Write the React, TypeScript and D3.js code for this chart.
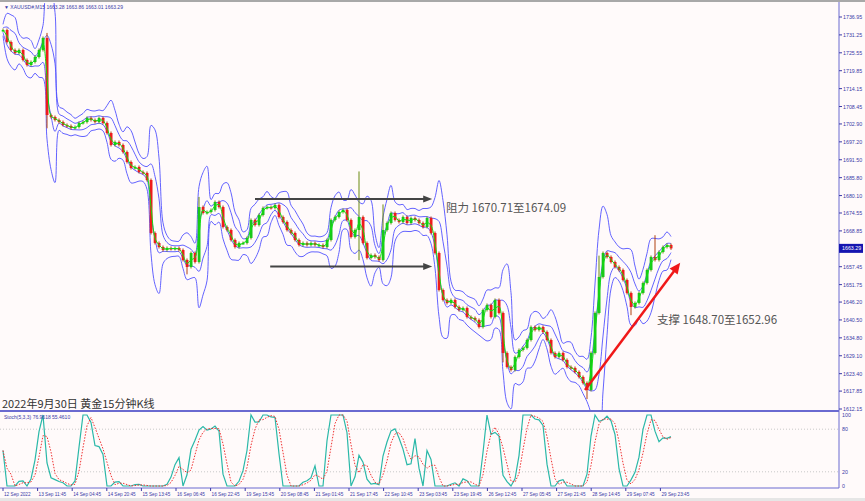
import React from "react";
import * as d3 from "d3";

const closes = [
  1732.81, 1728.99, 1726.44, 1725.49, 1726.44, 1723.26, 1721.67, 1722.62, 1724.21, 1726.44,
  1730.26, 1705.75, 1705.11, 1704.16, 1703.52, 1702.57, 1702.25, 1701.61, 1701.93, 1703.2,
  1703.52, 1704.8, 1704.16, 1703.52, 1704.8, 1703.2, 1700.02, 1696.2, 1697.16, 1696.2,
  1693.97, 1690.79, 1688.88, 1689.2, 1687.61, 1687.29, 1685.06, 1668.19, 1665.0, 1663.73,
  1662.77, 1663.41, 1663.09, 1663.41, 1662.77, 1659.59, 1657.36, 1661.82, 1658.95, 1676.46,
  1674.55, 1674.87, 1675.51, 1678.06, 1676.46, 1670.1, 1669.14, 1665.96, 1663.73, 1665.0,
  1665.0, 1666.6, 1672.33, 1670.73, 1673.92, 1676.15, 1676.46, 1676.15, 1677.1, 1673.28,
  1671.69, 1669.14, 1668.19, 1665.96, 1664.37, 1665.0, 1664.37, 1665.0, 1664.37, 1664.37,
  1663.73, 1665.96, 1672.33, 1673.28, 1674.87, 1675.51, 1672.33, 1666.91, 1669.14, 1673.28,
  1665.0, 1660.23, 1661.18, 1660.55, 1659.59, 1669.14, 1671.37, 1674.55, 1672.33, 1671.69,
  1673.28, 1671.37, 1672.96, 1672.33, 1671.37, 1670.1, 1672.96, 1668.19, 1661.82, 1650.04,
  1646.86, 1645.9, 1646.86, 1644.63, 1643.67, 1644.31, 1641.45, 1641.13, 1640.49, 1638.26,
  1643.67, 1645.27, 1641.45, 1646.86, 1642.72, 1629.99, 1625.53, 1624.57, 1628.71, 1630.94,
  1631.58, 1634.12, 1638.26, 1637.31, 1638.26, 1636.67, 1634.12, 1629.99, 1628.71, 1629.99,
  1627.76, 1625.53, 1625.21, 1623.94, 1622.35, 1620.44, 1618.21, 1629.99, 1642.72, 1654.18,
  1661.82, 1660.55, 1658.95, 1657.36, 1656.41, 1653.22, 1649.09, 1644.63, 1645.9, 1649.09,
  1652.27, 1656.41, 1660.55, 1659.59, 1662.14, 1663.73, 1664.37, 1663.29,
];

// long wicks visible in the picture: [candle index, price]
const spikeHighs: [number, number][] = [
  [11, 1731.4], [49, 1679.2], [89, 1687.3], [95, 1676.8], [149, 1660.5], [163, 1667.0],
];
const spikeLows: [number, number][] = [
  [11, 1702.0], [46, 1655.5], [89, 1660.0], [125, 1627.5], [146, 1615.8], [157, 1642.5],
];

const priceTicks = [
  1736.95, 1731.25, 1725.55, 1719.85, 1714.15, 1708.45, 1702.9, 1697.2, 1691.5, 1685.8,
  1680.1, 1674.55, 1668.85, 1657.45, 1651.75, 1646.2, 1640.5, 1634.8, 1629.1, 1623.4,
  1617.85, 1612.15,
];

const timeLabels = [
  "12 Sep 2022", "13 Sep 11:45", "14 Sep 04:45", "14 Sep 20:45", "15 Sep 13:45",
  "16 Sep 06:45", "16 Sep 22:45", "19 Sep 15:45", "20 Sep 08:45", "21 Sep 01:45",
  "21 Sep 17:45", "22 Sep 10:45", "23 Sep 03:45", "23 Sep 19:45", "26 Sep 12:45",
  "27 Sep 05:45", "27 Sep 21:45", "28 Sep 14:45", "29 Sep 07:45", "29 Sep 23:45",
];
const labelStep = 8.65; // candles between time labels

const stochLevels = [100, 80, 20, 0];

const lastPrice = 1663.29;

// annotations, in price / candle-index terms
const resistanceArrow = { from: 63, to: 107.3, price: 1679.0 };
const supportArrow = { from: 66.8, to: 107.3, price: 1657.5 };
const trendArrow = { i0: 145.5, p0: 1618.2, i1: 169.3, p1: 1658.7 };

const W = 865;
const H = 501;
const axisX = 839;
const mainTop = 3;
const mainBottom = 411;
const subTop = 413;
const subBottom = 488;

const blue = "#5252ff";
const axisBlue = "#3a3aa8";

function sma(arr: number[], n: number) {
  return arr.map((_, i) => {
    const w = arr.slice(Math.max(0, i - n + 1), i + 1);
    return d3.mean(w) as number;
  });
}

export default function App() {
  const n = closes.length;
  const x = d3.scaleLinear().domain([0, n - 1]).range([3, 671]);
  const y = d3.scaleLinear().domain([1612.15, 1736.95]).range([409, 17]);
  const ys = d3.scaleLinear().domain([0, 100]).range([486, 415]);

  const opens = closes.map((c, i) => (i === 0 ? c : closes[i - 1]));
  const highs = closes.map((c, i) => Math.max(c, opens[i]));
  const lows = closes.map((c, i) => Math.min(c, opens[i]));
  spikeHighs.forEach(([i, p]) => (highs[i] = Math.max(highs[i], p)));
  spikeLows.forEach(([i, p]) => (lows[i] = Math.min(lows[i], p)));

  // bands
  const period = 4;
  const mid = sma(closes, period);
  const sd = closes.map((_, i) => {
    const w = closes.slice(Math.max(0, i - period + 1), i + 1);
    return d3.deviation(w) || 0;
  });
  const outerUp = mid.map((m, i) => m + 2 * sd[i] + 1.8);
  const outerDn = mid.map((m, i) => m - 2 * sd[i] - 1.8);
  const innerUp = mid.map((m, i) => m + 0.8 * sd[i] + 0.7);
  const innerDn = mid.map((m, i) => m - 0.8 * sd[i] - 0.7);
  const fast = sma(closes, 2);

  const line = d3
    .line<number>()
    .x((_, i) => x(i))
    .y(d => y(d))
    .curve(d3.curveCatmullRom);

  // stochastic
  const kP = 4;
  const slowing = 2;
  const dP = 3;
  const num: number[] = [];
  const den: number[] = [];
  closes.forEach((c, i) => {
    const s = Math.max(0, i - kP + 1);
    const hh = d3.max(highs.slice(s, i + 1)) as number;
    const ll = d3.min(lows.slice(s, i + 1)) as number;
    num.push(c - ll);
    den.push(hh - ll);
  });
  const kLine = closes.map((_, i) => {
    const s = Math.max(0, i - slowing + 1);
    const a = d3.sum(num.slice(s, i + 1));
    const b = d3.sum(den.slice(s, i + 1));
    return b === 0 ? 50 : (a / b) * 100;
  });
  const dLine = sma(kLine, dP);

  const stochLine = d3
    .line<number>()
    .x((_, i) => x(i))
    .y(d => ys(d));

  const arrowHead = (x1: number, y1: number, x2: number, y2: number, len: number, wid: number) => {
    const a = Math.atan2(y2 - y1, x2 - x1);
    const p1 = [x2 - len * Math.cos(a) + wid * Math.sin(a), y2 - len * Math.sin(a) - wid * Math.cos(a)];
    const p2 = [x2 - len * Math.cos(a) - wid * Math.sin(a), y2 - len * Math.sin(a) + wid * Math.cos(a)];
    return `M${x2},${y2}L${p1[0]},${p1[1]}L${p2[0]},${p2[1]}Z`;
  };

  const tx0 = x(trendArrow.i0), ty0 = y(trendArrow.p0);
  const tx1 = x(trendArrow.i1), ty1 = y(trendArrow.p1);
  const ta = Math.atan2(ty1 - ty0, tx1 - tx0);

  return (
    <div style={{ position: "fixed", left: 0, top: 0, width: W, height: H }}>
      <svg width={W} height={H} style={{ display: "block", fontFamily: "'Liberation Sans', Arial, sans-serif" }}>
        <defs>
          <clipPath id="mainClip">
            <rect x={0} y={mainTop} width={axisX} height={mainBottom - mainTop} />
          </clipPath>
          <clipPath id="subClip">
            <rect x={0} y={subTop} width={axisX} height={subBottom - subTop} />
          </clipPath>
        </defs>
        <rect width={W} height={H} fill="#fffafa" />
        <rect width={W} height={2} fill="#a8a8a8" />
        <rect y={498} width={W} height={3} fill="#e6e6e6" />

        {/* main panel */}
        <g clipPath="url(#mainClip)">
          {[outerUp, outerDn, innerUp, innerDn].map((s, k) => (
            <path key={k} d={line(s) || ""} fill="none" stroke={blue} strokeWidth={1} opacity={0.9} />
          ))}
          {closes.map((c, i) => {
            const o = opens[i];
            const up = c >= o;
            const col = up ? "#19c819" : "#ee1c1c";
            const top = y(Math.max(o, c));
            const h = Math.max(1.5, Math.abs(y(o) - y(c)));
            return (
              <g key={i}>
                <line x1={x(i)} x2={x(i)} y1={y(highs[i]) - 1.5} y2={y(lows[i]) + 1.5} stroke={up ? "#6a8a10" : "#b04010"} strokeWidth={1} />
                <rect x={x(i) - 1.3} y={top} width={2.8} height={h} fill={col} />
              </g>
            );
          })}
          <path d={line(fast) || ""} fill="none" stroke="#10e010" strokeWidth={1} />
        </g>

        {/* annotations */}
        <g>
          <line x1={x(resistanceArrow.from)} x2={x(resistanceArrow.to) - 6} y1={y(resistanceArrow.price)} y2={y(resistanceArrow.price)} stroke="#444" strokeWidth={2} />
          <path d={arrowHead(x(resistanceArrow.from), y(resistanceArrow.price), x(resistanceArrow.to), y(resistanceArrow.price), 9, 3.5)} fill="#444" />
          <line x1={x(supportArrow.from)} x2={x(supportArrow.to) - 6} y1={y(supportArrow.price)} y2={y(supportArrow.price)} stroke="#444" strokeWidth={2} />
          <path d={arrowHead(x(supportArrow.from), y(supportArrow.price), x(supportArrow.to), y(supportArrow.price), 9, 3.5)} fill="#444" />
          <line x1={tx0} y1={ty0} x2={tx1 - 7 * Math.cos(ta)} y2={ty1 - 7 * Math.sin(ta)} stroke="#f01818" strokeWidth={2.5} />
          <path d={arrowHead(tx0, ty0, tx1, ty1, 11, 5)} fill="#f01818" />
          <text x={446} y={211.5} fontSize={11.5} fill="#555" fontFamily="'Noto Sans CJK SC', sans-serif">阻力 1670.71至1674.09</text>
          <text x={657} y={324} fontSize={11.5} fill="#555" fontFamily="'Noto Sans CJK SC', sans-serif">支撑 1648.70至1652.96</text>
          <text x={2} y={408} fontSize={11} fill="#333" fontFamily="'Noto Sans CJK SC', sans-serif">2022年9月30日 黄金15分钟K线</text>
        </g>

        <text x={4} y={9} fontSize={5} fill="#3a3aa8">▼ XAUUSD#,M15 1663.28 1663.86 1663.01 1663.29</text>

        {/* price axis */}
        <line x1={axisX} x2={axisX} y1={2} y2={subBottom} stroke="#6a6ad0" strokeWidth={1} />
        {priceTicks.map(p => (
          <g key={p}>
            <line x1={axisX} x2={axisX + 3} y1={y(p)} y2={y(p)} stroke={axisBlue} />
            <text x={axisX + 4} y={y(p) + 2} fontSize={5.3} fill={axisBlue}>{p.toFixed(2)}</text>
          </g>
        ))}
        <rect x={axisX} y={y(lastPrice) - 4.5} width={24} height={9} fill="#1515b0" />
        <text x={axisX + 3} y={y(lastPrice) + 2} fontSize={5.3} fill="#fff">{lastPrice.toFixed(2)}</text>

        {/* sub panel */}
        <line x1={0} x2={axisX} y1={mainBottom} y2={mainBottom} stroke="#6a6ad0" strokeWidth={2} />
        <line x1={0} x2={axisX} y1={subBottom} y2={subBottom} stroke="#6a6ad0" strokeWidth={1} />
        {[80, 20].map(l => (
          <line key={l} x1={0} x2={axisX} y1={ys(l)} y2={ys(l)} stroke="#c8c8c8" strokeDasharray="1,2" />
        ))}
        {stochLevels.map(l => (
          <text key={l} x={axisX + 3} y={ys(l) + 2} fontSize={5.3} fill={axisBlue}>{l}</text>
        ))}
        <g clipPath="url(#subClip)">
          <path d={stochLine(kLine) || ""} fill="none" stroke="#2ab8a8" strokeWidth={1.2} />
          <path d={stochLine(dLine) || ""} fill="none" stroke="#f03030" strokeWidth={1} strokeDasharray="1.5,1.5" />
        </g>
        <text x={4} y={419} fontSize={5} fill="#3a3aa8">Stoch(5,3,3) 76.9618 55.4610</text>

        {/* time axis */}
        {timeLabels.map((t, k) => {
          const xx = x(k * labelStep);
          return (
            <g key={t}>
              <line x1={xx} x2={xx} y1={subBottom} y2={subBottom + 3} stroke={axisBlue} />
              <text x={xx + 1} y={496} fontSize={4.7} fill={axisBlue}>{t}</text>
            </g>
          );
        })}
      </svg>
    </div>
  );
}
